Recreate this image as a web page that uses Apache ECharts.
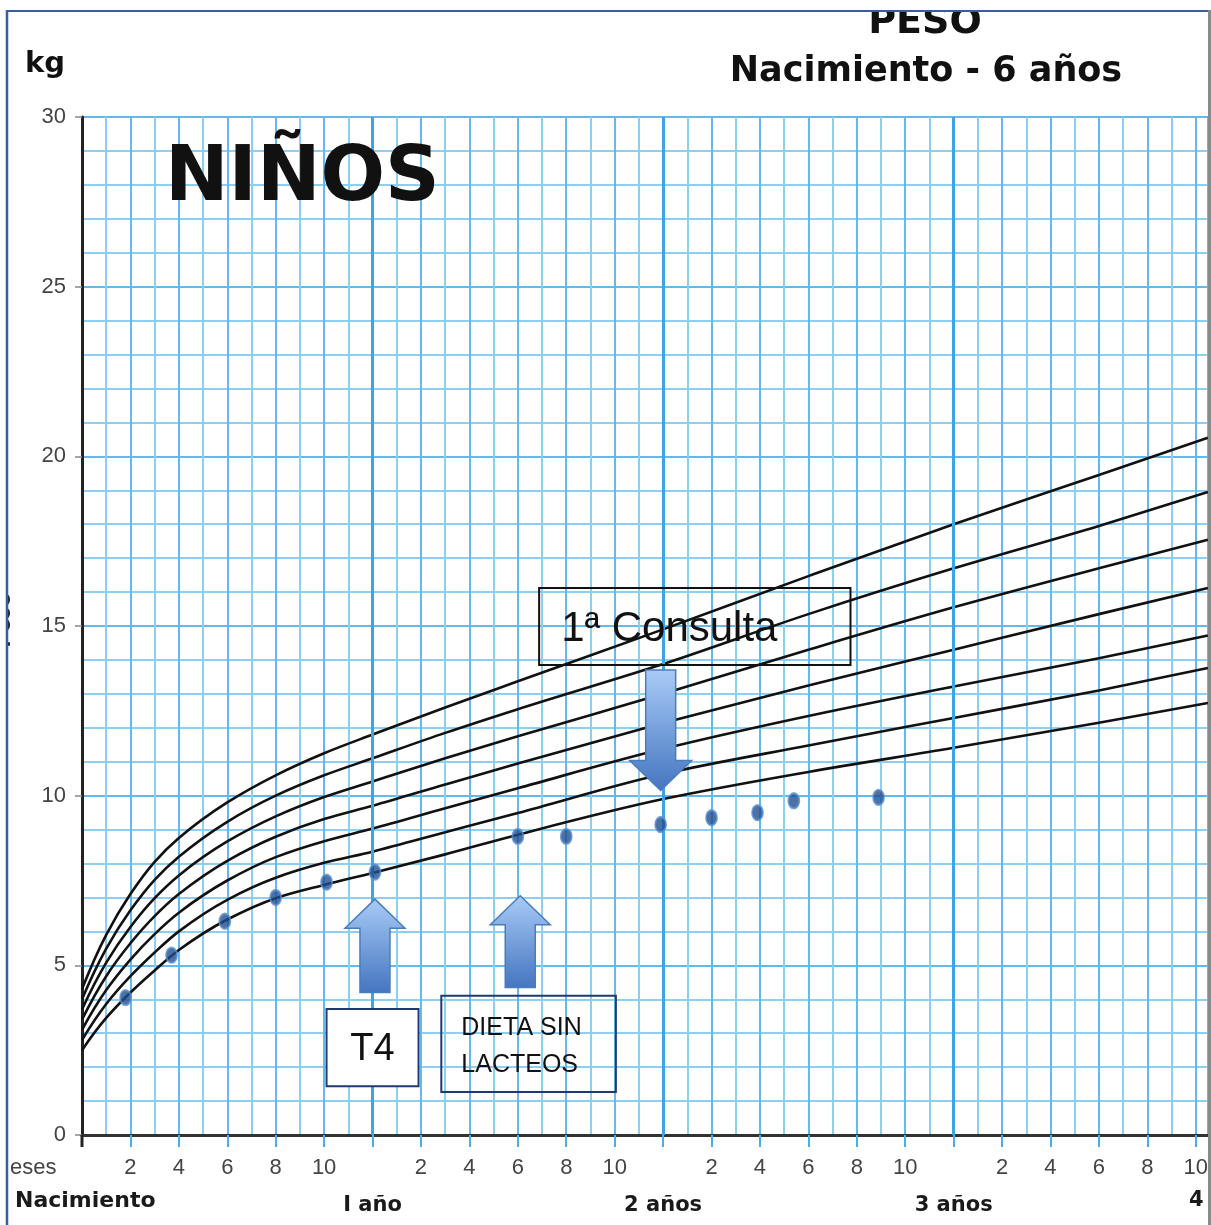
<!DOCTYPE html>
<html><head><meta charset="utf-8">
<script src="https://cdn.jsdelivr.net/npm/echarts@6/dist/echarts.min.js"></script>
<style>html,body{margin:0;padding:0;background:#fff}#c{width:1211px;height:1225px}</style>
</head><body><div id="c"></div>
<script>
// ---- data (months, kg) ----
const ages = [0,1,2,3,4,6,8,10,12,15,18,24,30,36,42,46.5];
const c1 = [2.5,3.45,4.2,4.85,5.45,6.35,6.98,7.37,7.72,8.27,8.85,9.9,10.7,11.41,12.15,12.73];
const c2 = [2.8,3.86,4.68,5.38,6.0,6.93,7.58,8.02,8.35,8.92,9.49,10.64,11.48,12.29,13.1,13.76];
const c3 = [3.1,4.27,5.17,5.92,6.55,7.5,8.19,8.66,9.03,9.63,10.22,11.38,12.35,13.22,14.05,14.72];
const c4 = [3.4,4.68,5.65,6.45,7.1,8.08,8.79,9.31,9.7,10.33,10.95,12.14,13.25,14.3,15.35,16.12];
const c5 = [3.7,5.08,6.13,6.98,7.65,8.65,9.39,9.96,10.42,11.1,11.75,13.0,14.3,15.55,16.7,17.54];
const c6 = [4.0,5.49,6.62,7.52,8.2,9.23,10.0,10.6,11.1,11.85,12.55,13.88,15.35,16.7,17.95,18.95];
const c7 = [4.3,5.9,7.1,8.05,8.75,9.8,10.6,11.25,11.8,12.6,13.37,14.9,16.47,18.0,19.45,20.55];
const patientAge = [1.8,3.7,5.9,8.0,10.1,12.1,18.0,20.0,23.9,26.0,27.9,29.4,32.9];
const patientKg  = [4.05,5.3,6.3,7.0,7.45,7.75,8.8,8.8,9.15,9.35,9.5,9.85,9.95];
const yearNames = ['', 'I año', '2 años', '3 años'];
const yearMarks = [12,24,36];

const chart = echarts.init(document.getElementById('c'));
const curves = [c1,c2,c3,c4,c5,c6,c7];

// monotone cubic path through pixel points
function monoPath(p){
  const n = p.length, h=[], d=[], m=[];
  for(let i=0;i<n-1;i++){ h[i]=p[i+1][0]-p[i][0]; d[i]=(p[i+1][1]-p[i][1])/h[i]; }
  for(let i=1;i<n-1;i++){
    if(d[i-1]*d[i]<=0) m[i]=0;
    else { const w1=2*h[i]+h[i-1], w2=h[i]+2*h[i-1]; m[i]=(w1+w2)/(w1/d[i-1]+w2/d[i]); }
  }
  let m0=((2*h[0]+h[1])*d[0]-h[0]*d[1])/(h[0]+h[1]);
  if(m0*d[0]<=0) m0=0; else if(Math.abs(m0)>3*Math.abs(d[0])) m0=3*d[0];
  m[0]=m0;
  let mn=((2*h[n-2]+h[n-3])*d[n-2]-h[n-2]*d[n-3])/(h[n-2]+h[n-3]);
  if(mn*d[n-2]<=0) mn=0; else if(Math.abs(mn)>3*Math.abs(d[n-2])) mn=3*d[n-2];
  m[n-1]=mn;
  let s='M'+p[0][0]+' '+p[0][1];
  for(let i=0;i<n-1;i++){
    const t=h[i]/3;
    s+=' C'+(p[i][0]+t)+' '+(p[i][1]+m[i]*t)+' '+(p[i+1][0]-t)+' '+(p[i+1][1]-m[i+1]*t)+' '+p[i+1][0]+' '+p[i+1][1];
  }
  return s;
}

const series = [{
  type:'custom', silent:true, z:3,
  data: curves.map(c=>[ages[0], c[0]]),
  encode:{x:0, y:1},
  renderItem:(params, api)=>{
    const c = curves[params.dataIndex];
    const pts = ages.map((a,j)=>api.coord([a,c[j]]));
    return {type:'path', shape:{pathData: monoPath(pts)},
      style:{fill:'none', stroke:'#111', lineWidth:2.6}};
  }
},{
  type:'scatter', z:6, data: patientAge.map((a,i)=>[a,patientKg[i]]),
  symbol:'circle', symbolSize:[11,15],
  itemStyle:{color:'#1f4e8f', borderColor:'#5b8fd0', borderWidth:2},
  markLine:{silent:true, symbol:'none', label:{show:false},
    lineStyle:{color:'#3aa6e6', width:3, type:'solid'}, data: yearMarks.map(m=>({xAxis:m}))}
}];

const gridLineMinor = {color:'#8dcff3', width:2};
const gridLineMajor = {color:'#62b9ed', width:2};

chart.setOption({
  animation:false,
  grid:{left:82, right:1, top:117, bottom:90, show:true, borderColor:'#555', borderWidth:1.5, backgroundColor:'#fff'},
  xAxis:[{
    type:'value', min:0, max:46.5, interval:2,
    axisLine:{show:true, onZero:false, lineStyle:{color:'#333', width:3}},
    axisTick:{show:true, length:12, lineStyle:{color:'#4aaee8', width:2}},
    minorTick:{show:false, splitNumber:2},
    axisLabel:{show:true, showMaxLabel:false, margin:22, fontSize:22, color:'#444', fontFamily:'Liberation Sans',
      formatter:v=> (v%12===0 ? '' : String(v%12))},
    splitLine:{show:true, lineStyle:gridLineMajor},
    minorSplitLine:{show:true, lineStyle:gridLineMinor}
  },{
    type:'value', min:0, max:46.5, interval:12, position:'bottom', offset:52,
    axisLine:{show:false}, axisTick:{show:false}, splitLine:{show:false},
    axisLabel:{show:true, showMaxLabel:false, fontSize:21, fontWeight:'bold', color:'#1a1a1a', fontFamily:'DejaVu Sans',
      formatter:v=> yearNames[v/12] || ''}
  }],
  yAxis:{
    type:'value', min:0, max:30, interval:5,
    axisLine:{show:true, onZero:false, lineStyle:{color:'#222', width:3}},
    axisTick:{show:true, length:7, lineStyle:{color:'#888', width:1.5}},
    minorTick:{show:false, splitNumber:5},
    axisLabel:{margin:16, fontSize:22, color:'#444', fontFamily:'Liberation Sans'},
    splitLine:{show:true, lineStyle:gridLineMajor},
    minorSplitLine:{show:true, lineStyle:gridLineMinor}
  },
  series
});

// ---- annotations (data coordinates) ----
const px = (x,y)=>chart.convertToPixel({gridIndex:0},[x,y]);
const grad = {type:'linear', x:0, y:0, x2:0, y2:1,
  colorStops:[{offset:0,color:'#a9cbf7'},{offset:1,color:'#4475c0'}]};
function upArrow(x, tipKg, baseKg){
  const t = px(x,tipKg), b = px(x,baseKg), cx=t[0], ty=t[1], by=b[1];
  return {type:'polygon', z:50, shape:{points:[[cx,ty],[cx+30,ty+29],[cx+15,ty+29],[cx+15,by],[cx-15,by],[cx-15,ty+29],[cx-30,ty+29]]},
    style:{fill:grad, stroke:'#4a7ebb', lineWidth:1.5}};
}
function downArrow(x, topKg, tipKg){
  const t = px(x,topKg), b = px(x,tipKg), cx=t[0], ty=t[1], by=b[1];
  return {type:'polygon', z:50, shape:{points:[[cx-15,ty],[cx+15,ty],[cx+15,by-30],[cx+31,by-30],[cx,by],[cx-31,by-30],[cx-15,by-30]]},
    style:{fill:grad, stroke:'#4a7ebb', lineWidth:1.5}};
}
function box(x1,y1,x2,y2,fill,stroke){
  const a = px(x1,y1), b = px(x2,y2);
  return {r:{type:'rect', z:50, shape:{x:a[0], y:a[1], width:b[0]-a[0], height:b[1]-a[1]},
    style:{fill:fill, stroke:stroke, lineWidth:2}}, a, b};
}
const g = [];
const bT4 = box(10.1,3.71,13.9,1.44,'#fff','#1f3a6e');
const bDi = box(14.84,4.1,22.05,1.27,'rgba(0,0,0,0)','#1f3a6e');
const bCo = box(18.88,16.12,31.74,13.85,'rgba(0,0,0,0)','#111');
g.push(bT4.r, bDi.r, bCo.r);
g.push(upArrow(12.1,6.95,4.2), upArrow(18.1,7.05,4.35), downArrow(23.9,13.7,10.15));
g.push({type:'text', z:51, style:{text:'T4', x:(bT4.a[0]+bT4.b[0])/2, y:(bT4.a[1]+bT4.b[1])/2+2, textAlign:'center', textVerticalAlign:'middle', fontSize:38, fontFamily:'Liberation Sans', fill:'#111'}});
g.push({type:'text', z:51, style:{text:'DIETA SIN', x:bDi.a[0]+20, y:bDi.a[1]+32, textVerticalAlign:'middle', fontSize:25, fontFamily:'Liberation Sans', fill:'#111'}});
g.push({type:'text', z:51, style:{text:'LACTEOS', x:bDi.a[0]+20, y:bDi.a[1]+69, textVerticalAlign:'middle', fontSize:25, fontFamily:'Liberation Sans', fill:'#111'}});
g.push({type:'text', z:51, style:{text:'1ª Consulta', x:bCo.a[0]+22, y:(bCo.a[1]+bCo.b[1])/2+3, textVerticalAlign:'middle', fontSize:42, fontFamily:'Liberation Sans', fill:'#111'}});

// y-axis extension below x axis
const o = px(0,0);
g.push({type:'line', z:40, shape:{x1:o[0], y1:o[1], x2:o[0], y2:o[1]+12}, style:{stroke:'#222', lineWidth:3}});

// titles & labels
g.push({type:'text', z:60, style:{text:'NIÑOS', x:165, y:180, textVerticalAlign:'middle', fontSize:76, fontWeight:'bold', fontFamily:'DejaVu Sans', fill:'#111'}});
g.push({type:'text', z:60, style:{text:'kg', x:45, y:64, textAlign:'center', textVerticalAlign:'middle', fontSize:29, fontWeight:'bold', fontFamily:'DejaVu Sans', fill:'#111'}});
g.push({type:'text', z:60, style:{text:'PESO', x:925, y:23, textAlign:'center', textVerticalAlign:'middle', fontSize:38, fontWeight:'bold', fontFamily:'DejaVu Sans', fill:'#111'}});
g.push({type:'text', z:60, style:{text:'Nacimiento - 6 años', x:926, y:72, textAlign:'center', textVerticalAlign:'middle', fontSize:35, fontWeight:'bold', fontFamily:'DejaVu Sans', fill:'#111'}});
g.push({type:'text', z:60, style:{text:'eses', x:10, y:1168, textVerticalAlign:'middle', fontSize:22, fontFamily:'Liberation Sans', fill:'#444'}});
g.push({type:'text', z:60, style:{text:'Nacimiento', x:15, y:1201, textVerticalAlign:'middle', fontSize:22, fontWeight:'bold', fontFamily:'DejaVu Sans', fill:'#1a1a1a'}});
g.push({type:'text', z:60, style:{text:'4 años', x:1189, y:1201, textVerticalAlign:'middle', fontSize:21, fontWeight:'bold', fontFamily:'DejaVu Sans', fill:'#1a1a1a'}});
g.push({type:'text', z:60, rotation:Math.PI/2, x:2, y:620, style:{text:'Peso', x:0, y:0, textAlign:'center', textVerticalAlign:'middle', fontSize:26, fontWeight:'bold', fontFamily:'Lato', fill:'#222'}});
// frame
g.push({type:'rect', z:70, shape:{x:0,y:0,width:1211,height:10}, style:{fill:'#fff'}});
g.push({type:'rect', z:70, shape:{x:0,y:0,width:6,height:1225}, style:{fill:'#fff'}});
g.push({type:'line', z:71, shape:{x1:6,y1:11,x2:1211,y2:11}, style:{stroke:'#3a5d9c', lineWidth:2}});
g.push({type:'line', z:71, shape:{x1:7,y1:10,x2:7,y2:1225}, style:{stroke:'#3a5d9c', lineWidth:2.5}});
g.push({type:'rect', z:71, shape:{x:1208,y:10,width:3,height:1215}, style:{fill:'#8a8a8a'}});
chart.setOption({graphic:g});
</script></body></html>
